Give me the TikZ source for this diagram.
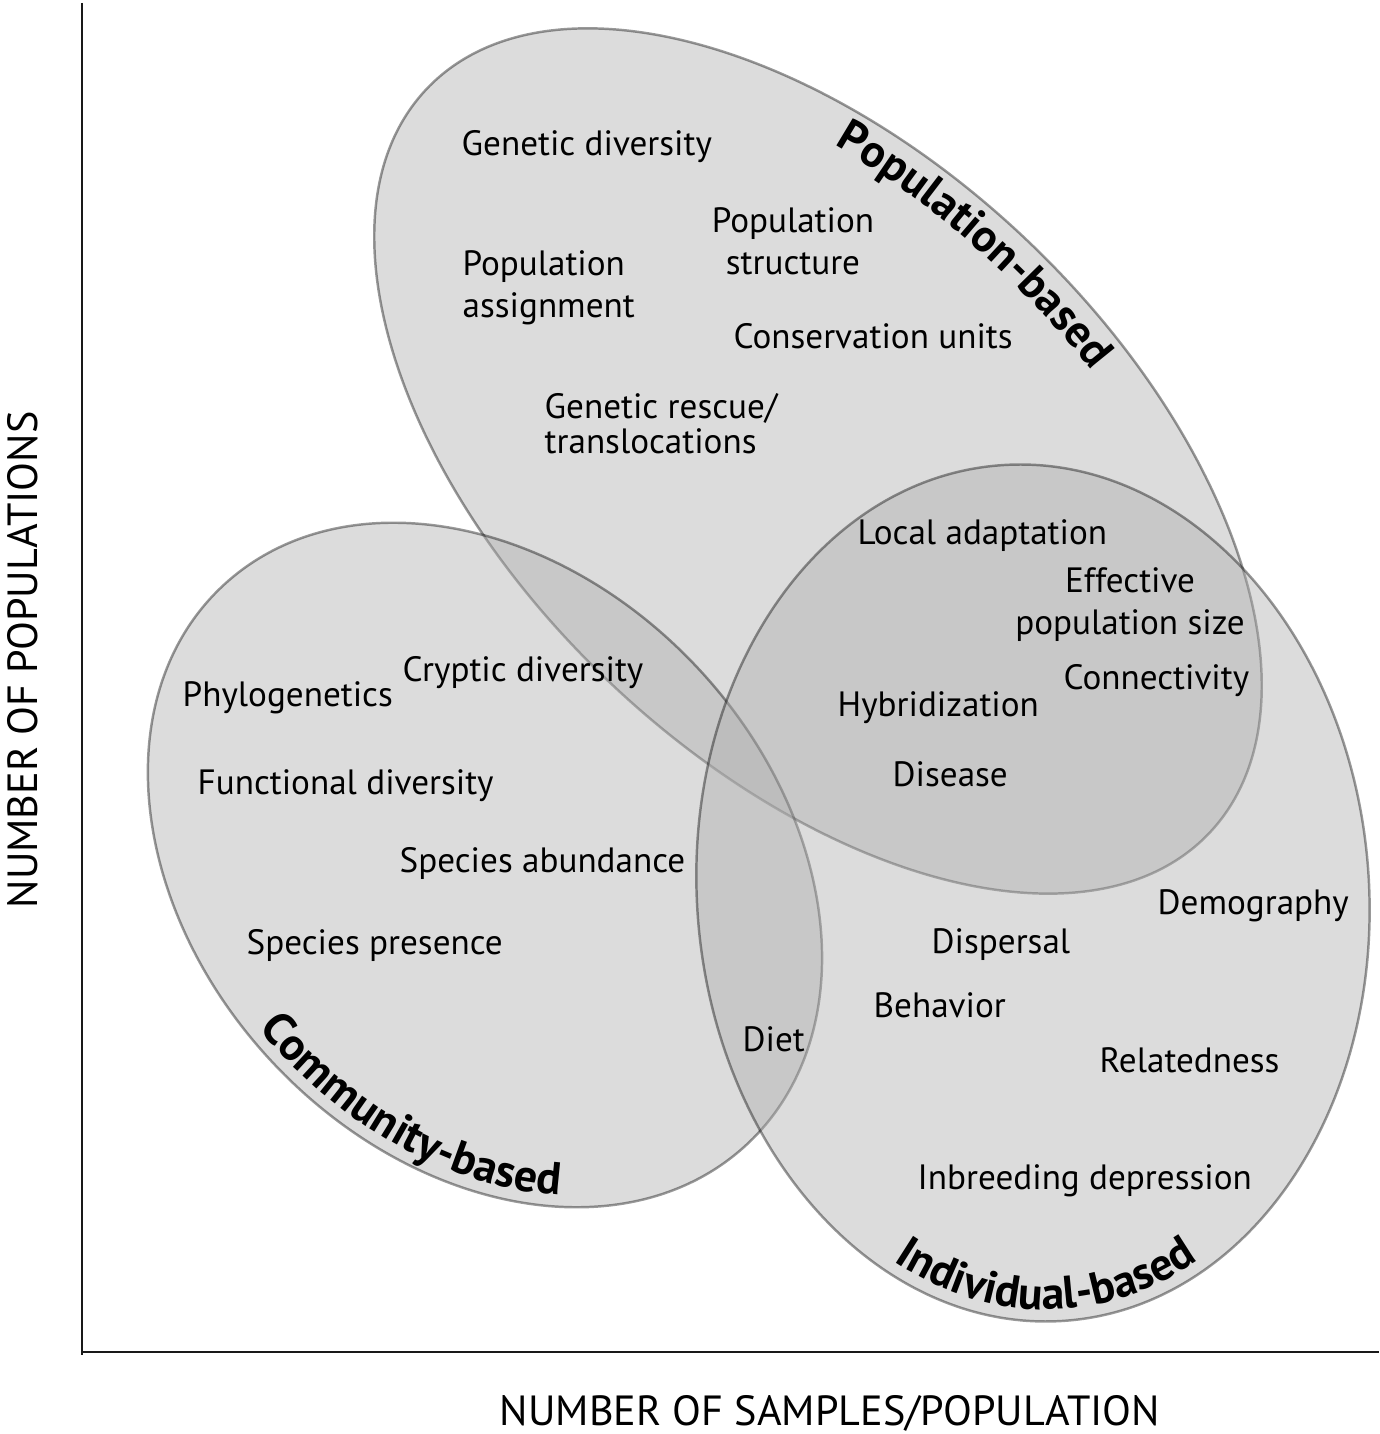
\documentclass[tikz,border=0pt]{standalone}
\usepackage{fontspec}
\setmainfont{PT Sans}
\usepackage{tikz}
\usetikzlibrary{decorations.text}
\definecolor{setgray}{RGB}{174,174,174}
\tikzset{
  setshape/.style={fill=setgray,fill opacity=0.43,draw=black,draw opacity=0.4,line width=0.7pt},
  topic/.style={inner sep=0pt,anchor=base west,font=\fontsize{10}{12.2}\selectfont},
  ctopic/.style={topic,anchor=base,align=center},
  axislabel/.style={inner sep=0pt,font=\fontsize{12}{14}\selectfont},
  axisline/.style={line width=0.6pt,draw=black!90},
  setlabel/.style={decorate,decoration={text along path,text align=center,
    text={|\bfseries\fontsize{13}{15}\selectfont|#1}}},
}

\begin{document}
\begin{tikzpicture}
  \useasboundingbox (0,0) rectangle (13.79,14.34);
  \coordinate (ytop) at (0.82,14.31);
  \coordinate (ybot) at (0.82,0.79);
  \coordinate (xleft) at (0.82,0.82);
  \coordinate (xright) at (13.79,0.82);
  \draw[axisline] (ytop) -- (ybot);
  \draw[axisline] (xleft) -- (xright);

  \coordinate (popc) at (8.18,9.73);
  \coordinate (comc) at (4.85,5.69);
  \coordinate (indc) at (10.33,5.41);
  \draw[setshape,rotate around={-43.6:(popc)}] (popc) ellipse[x radius=5.40,y radius=3.04];
  \draw[setshape,rotate around={-46.6:(comc)}] (comc) ellipse[x radius=3.83,y radius=2.90];
  \draw[setshape,rotate around={4.5:(indc)}] (indc) ellipse[x radius=3.36,y radius=4.29];

  \path[setlabel=Population-based] plot[domain=137:53,samples=90,variable=\t]
    ({8.18+5.00*cos(\t)*cos(-43.6)-2.64*sin(\t)*sin(-43.6)},
     {9.73+5.00*cos(\t)*sin(-43.6)+2.64*sin(\t)*cos(-43.6)});
  \path[setlabel=Community-based] plot[domain=-106:-26,samples=90,variable=\t]
    ({4.85+3.71*cos(\t)*cos(-46.6)-2.78*sin(\t)*sin(-46.6)},
     {5.69+3.71*cos(\t)*sin(-46.6)+2.78*sin(\t)*cos(-46.6)});
  \path[setlabel=Individual-based] plot[domain=-135:-51,samples=90,variable=\t]
    ({10.33+3.24*cos(\t)*cos(4.5)-4.17*sin(\t)*sin(4.5)},
     {5.41+3.24*cos(\t)*sin(4.5)+4.17*sin(\t)*cos(4.5)});

  \node[topic] (gendiv) at (4.61,12.78) {Genetic diversity};
  \node[topic,align=left] (popassign) at (4.62,11.16) {Population\\assignment};
  \node[ctopic] (popstruct) at (7.93,11.59) {Population\\structure};
  \node[topic] (consunits) at (7.33,10.85) {Conservation units};
  \node[topic,align=left,font=\fontsize{10}{10.1}\selectfont] (rescue) at (5.44,9.80) {Genetic rescue/\\translocations};
  \node[topic] (localad) at (8.57,8.89) {Local adaptation};
  \node[ctopic] (effsize) at (11.30,7.99) {Effective\\population size};
  \node[topic] (connect) at (10.63,7.44) {Connectivity};
  \node[topic] (hybrid) at (8.37,7.17) {Hybridization};
  \node[topic] (disease) at (8.92,6.47) {Disease};
  \node[topic] (cryptic) at (4.02,7.52) {Cryptic diversity};
  \node[topic] (phylo) at (1.82,7.27) {Phylogenetics};
  \node[topic] (funcdiv) at (1.97,6.39) {Functional diversity};
  \node[topic] (abund) at (3.99,5.61) {Species abundance};
  \node[topic] (presence) at (2.46,4.79) {Species presence};
  \node[topic] (diet) at (7.42,3.82) {Diet};
  \node[topic] (dispersal) at (9.31,4.80) {Dispersal};
  \node[topic] (behav) at (8.73,4.16) {Behavior};
  \node[topic] (inbreed) at (9.17,2.44) {Inbreeding depression};
  \node[topic] (demog) at (11.57,5.19) {Demography};
  \node[topic] (related) at (10.99,3.61) {Relatedness};

  \node[axislabel,rotate=90] (ylab) at (0.23,7.74) {NUMBER OF POPULATIONS};
  \node[axislabel,anchor=base] (xlab) at (8.30,0.09) {NUMBER OF SAMPLES/POPULATION};
\end{tikzpicture}
\end{document}
